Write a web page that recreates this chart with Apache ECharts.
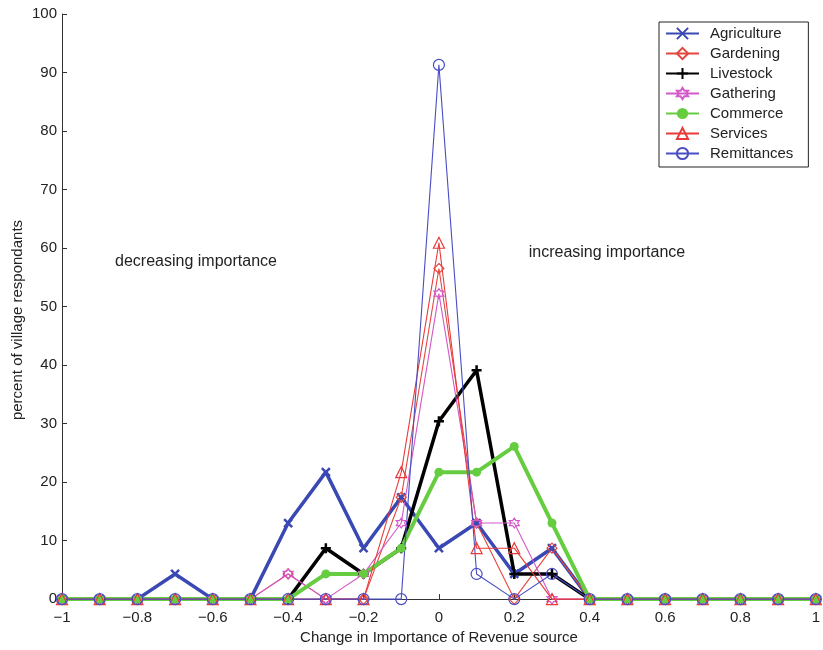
<!DOCTYPE html>
<html>
<head>
<meta charset="utf-8">
<script src="https://cdn.jsdelivr.net/npm/echarts@6/dist/echarts.min.js"></script>
<style>
html,body{margin:0;padding:0;background:#fff;}
#chart{width:823px;height:650px;}
</style>
</head>
<body>
<div id="chart"></div>
<script>
// Change in importance (x values)
const xs = [-1,-0.9,-0.8,-0.7,-0.6,-0.5,-0.4,-0.3,-0.2,-0.1,0,0.1,0.2,0.3,0.4,0.5,0.6,0.7,0.8,0.9,1];
// percent of village respondants per series
const agriculture = [0,0,0,4.3,0,0,13.0,21.7,8.7,17.4,8.7,13.0,4.3,8.7,0,0,0,0,0,0,0];
const gardening   = [0,0,0,0,0,0,4.3,0,0,17.4,56.5,13.0,0,8.7,0,0,0,0,0,0,0];
const livestock   = [0,0,0,0,0,0,0,8.7,4.3,8.7,30.4,39.1,4.3,4.3,0,0,0,0,0,0,0];
const gathering   = [0,0,0,0,0,0,4.3,0,4.3,13.0,52.2,13.0,13.0,0,0,0,0,0,0,0,0];
const commerce    = [0,0,0,0,0,0,0,4.3,4.3,8.7,21.7,21.7,26.1,13.0,0,0,0,0,0,0,0];
const services    = [0,0,0,0,0,0,0,0,0,21.7,60.9,8.7,8.7,0,0,0,0,0,0,0,0];
const remittances = [0,0,0,0,0,0,0,0,0,0,91.3,4.3,0,4.3,0,0,0,0,0,0,0];
const seriesNames = ['Agriculture','Gardening','Livestock','Gathering','Commerce','Services','Remittances'];
const xTicks = {min:-1, max:1, interval:0.2};
const yTicks = {min:0, max:100, interval:10};
const xTitle = 'Change in Importance of Revenue source';
const yTitle = 'percent of village respondants';
const noteLeft = 'decreasing importance';
const noteRight = 'increasing importance';

const FONT = '"Liberation Sans", Arial, Helvetica, sans-serif';
const pair = arr => xs.map((x,i)=>[x, arr[i]]);
const NONE = 'rgba(0,0,0,0)';
const XSYM = 'path://M0,0L10,10M10,0L0,10';
const PLUS = 'path://M5,0L5,10M0,5L10,5';
const HEX = 'path://M0,-10L2.89,-5L8.66,-5L5.77,0L8.66,5L2.89,5L0,10L-2.89,5L-8.66,5L-5.77,0L-8.66,-5L-2.89,-5Z';

function mk(name, data, color, lw, symbol, size, fill, bw){
  return {
    name, type:'line', data: pair(data), clip:false,
    symbol, symbolSize:size, showSymbol:true, showAllSymbol:true,
    lineStyle:{color, width:lw},
    itemStyle:{color:fill, borderColor:color, borderWidth:bw},
    emphasis:{disabled:true}, silent:true, z:2
  };
}

const series = [
  mk(seriesNames[0], agriculture, '#3a48b4', 3.5, XSYM, 8, NONE, 2.5),
  mk(seriesNames[1], gardening,   '#e4473f', 1.1, 'diamond', 10, NONE, 1.2),
  mk(seriesNames[2], livestock,   '#000000', 3.5, PLUS, 10, NONE, 2.5),
  mk(seriesNames[3], gathering,   '#d458c8', 1.1, HEX, 10, NONE, 1.2),
  mk(seriesNames[4], commerce,    '#66cc40', 4, 'circle', 9, '#66cc40', 0),
  mk(seriesNames[5], services,    '#e83a3a', 1.1, 'triangle', 11, NONE, 1.2),
  mk(seriesNames[6], remittances, '#4a4ec4', 1.1, 'circle', 11, NONE, 1.2)
];

const fmt = v => {
  let r = Math.round(v*10)/10;
  if (Math.abs(r) < 1e-9) return '0';
  return String(r).replace('-', '\u2212');
};

const chart = echarts.init(document.getElementById('chart'), null, {renderer:'canvas'});
chart.setOption({
  animation:false,
  backgroundColor:'#fff',
  textStyle:{fontFamily:FONT},
  grid:{left:62, right:5, top:14, bottom:47, containLabel:false},
  xAxis:{
    type:'value', min:xTicks.min, max:xTicks.max, interval:xTicks.interval,
    name:xTitle, nameLocation:'middle', nameGap:29,
    nameTextStyle:{fontFamily:FONT, fontSize:15, color:'#222'},
    axisLine:{show:true, onZero:false, lineStyle:{color:'#333', width:1}},
    axisTick:{show:true, inside:true, length:5, lineStyle:{color:'#333'}},
    axisLabel:{fontFamily:FONT, fontSize:15, color:'#222', margin:11, formatter:fmt},
    splitLine:{show:false}
  },
  yAxis:{
    type:'value', min:yTicks.min, max:yTicks.max, interval:yTicks.interval,
    axisLine:{show:true, onZero:false, lineStyle:{color:'#333', width:1}},
    axisTick:{show:true, inside:true, length:5, lineStyle:{color:'#333'}},
    axisLabel:{fontFamily:FONT, fontSize:15, color:'#222', margin:5},
    splitLine:{show:false}
  },
  legend:{
    data:seriesNames, orient:'vertical', left:659, top:22,
    itemWidth:33, itemHeight:14, itemGap:5,
    padding:[4,15,6,6],
    backgroundColor:'#fff', borderColor:'#222', borderWidth:1, borderRadius:0,
    selectedMode:false,
    textStyle:{fontFamily:FONT, fontSize:15, color:'#222', padding:[0,0,0,6]}
  },
  graphic:[
    {type:'text', x:18, y:320, rotation:Math.PI/2, silent:true,
      style:{text:yTitle, font:'15px '+FONT, fill:'#222', align:'center', verticalAlign:'middle'}},
    {type:'text', x:196, y:262, silent:true,
      style:{text:noteLeft, font:'16px '+FONT, fill:'#222', align:'center', verticalAlign:'middle'}},
    {type:'text', x:607, y:253, silent:true,
      style:{text:noteRight, font:'16px '+FONT, fill:'#222', align:'center', verticalAlign:'middle'}}
  ],
  series
});
</script>
</body>
</html>
